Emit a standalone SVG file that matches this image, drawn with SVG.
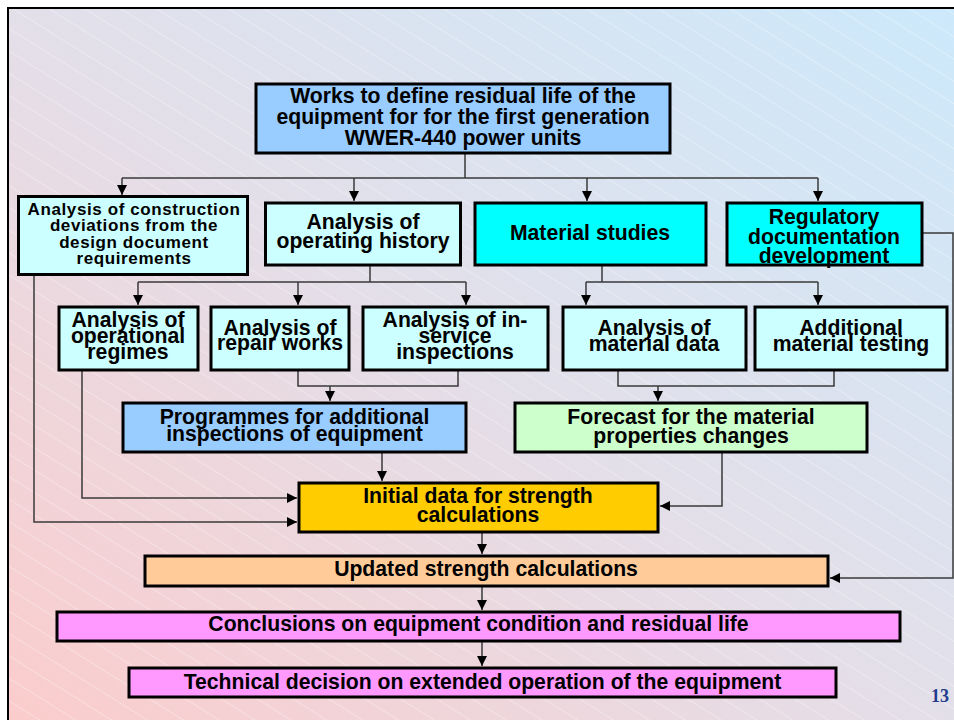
<svg xmlns="http://www.w3.org/2000/svg" width="954" height="720" viewBox="0 0 954 720">
  <defs>
    <linearGradient id="bg" x1="0" y1="1" x2="1" y2="0">
      <stop offset="0" stop-color="#fbcccc"/>
      <stop offset="0.5" stop-color="#e3dfe9"/>
      <stop offset="1" stop-color="#cce9fb"/>
    </linearGradient>
    <pattern id="stripes" patternUnits="userSpaceOnUse" width="19" height="19" patternTransform="rotate(32)">
      <line x1="0" y1="0.5" x2="19" y2="0.5" stroke="#ffffff" stroke-opacity="0.3" stroke-width="1"/>
    </pattern>
    <marker id="arr" markerUnits="userSpaceOnUse" markerWidth="10" markerHeight="10" refX="10" refY="5" orient="auto">
      <path d="M0,0 L10,5 L0,10 z" fill="#000"/>
    </marker>
    <style>
      .box { stroke: #000; stroke-width: 3; }
      .lt { fill: #ccffff; }
      .cy { fill: #00ffff; }
      .bl { fill: #99ccff; }
      .t { font-family: "Liberation Sans", Arial, sans-serif; font-weight: bold; font-size: 21.2px; text-anchor: middle; fill: #000; }
      .ts { font-size: 17px; letter-spacing: 0.6px; }
      .c { fill: none; stroke: #3a3a3a; stroke-width: 1.5; }
      .a { marker-end: url(#arr); }
    </style>
  </defs>

  <!-- slide background -->
  <rect x="0" y="0" width="954" height="720" fill="#ffffff"/>
  <rect x="9" y="9" width="945" height="711" fill="url(#bg)"/>
  <rect x="9" y="9" width="945" height="711" fill="url(#stripes)"/>
  <path d="M8,720 V8 H954" fill="none" stroke="#000" stroke-width="2"/>

  <!-- connectors -->
  <g id="connectors">
    <path class="c" d="M465,154 V178 M122,178 H818"/>
    <path class="c a" d="M122,178 V195"/>
    <path class="c a" d="M354,178 V201"/>
    <path class="c a" d="M587,178 V201"/>
    <path class="c a" d="M818,178 V201"/>

    <path class="c" d="M370,266 V282 M138,282 H466"/>
    <path class="c a" d="M138,282 V305"/>
    <path class="c a" d="M298,282 V305"/>
    <path class="c a" d="M466,282 V305"/>

    <path class="c" d="M602,266 V282 M586,282 H818"/>
    <path class="c a" d="M586,282 V305"/>
    <path class="c a" d="M818,282 V305"/>

    <path class="c" d="M298,371 V386 H458 V371"/>
    <path class="c a" d="M330,386 V401"/>
    <path class="c" d="M618,371 V386 H834 V371"/>
    <path class="c a" d="M658,386 V401"/>

    <path class="c a" d="M382,453 V481"/>
    <path class="c a" d="M82,371 V498 H297"/>
    <path class="c a" d="M34,276 V522 H297"/>
    <path class="c a" d="M722,453 V506 H660"/>

    <path class="c a" d="M482,533 V554"/>
    <path class="c a" d="M922,233 H953 V578 H830"/>
    <path class="c a" d="M482,587 V610"/>
    <path class="c a" d="M482,642 V666"/>
  </g>

  <!-- nodes -->
  <g id="works">
    <rect class="box bl" x="256" y="84" width="414" height="69"/>
    <text class="t" x="463" y="103">Works to define residual life of the</text>
    <text class="t" x="463" y="124">equipment for for the first generation</text>
    <text class="t" x="463" y="145">WWER-440 power units</text>
  </g>

  <g id="construction-deviations">
    <rect class="box lt" x="18.5" y="196.5" width="229" height="78"/>
    <text class="t ts" x="134" y="215">Analysis of construction</text>
    <text class="t ts" x="134" y="231">deviations from the</text>
    <text class="t ts" x="134" y="248">design document</text>
    <text class="t ts" x="134" y="264">requirements</text>
  </g>

  <g id="operating-history">
    <rect class="box lt" x="265.5" y="203" width="195" height="62"/>
    <text class="t" x="363" y="229">Analysis of</text>
    <text class="t" x="363" y="248">operating history</text>
  </g>

  <g id="material-studies">
    <rect class="box cy" x="475" y="203" width="231" height="62"/>
    <text class="t" x="590" y="240">Material studies</text>
  </g>

  <g id="regulatory">
    <rect class="box cy" x="727" y="203" width="195" height="62"/>
    <text class="t" x="824" y="224">Regulatory</text>
    <text class="t" x="824" y="244">documentation</text>
    <text class="t" x="824" y="263">development</text>
  </g>

  <g id="operational-regimes">
    <rect class="box lt" x="59" y="307" width="139" height="63"/>
    <text class="t" x="128" y="327">Analysis of</text>
    <text class="t" x="128" y="343">operational</text>
    <text class="t" x="128" y="359">regimes</text>
  </g>

  <g id="repair-works">
    <rect class="box lt" x="211" y="307" width="138" height="63"/>
    <text class="t" x="280" y="335">Analysis of</text>
    <text class="t" x="280" y="350">repair works</text>
  </g>

  <g id="in-service-inspections">
    <rect class="box lt" x="363" y="307" width="185" height="63"/>
    <text class="t" x="455" y="327">Analysis of in-</text>
    <text class="t" x="455" y="343">service</text>
    <text class="t" x="455" y="359">inspections</text>
  </g>

  <g id="material-data">
    <rect class="box lt" x="563" y="307" width="183" height="63"/>
    <text class="t" x="654" y="335">Analysis of</text>
    <text class="t" x="654" y="351">material data</text>
  </g>

  <g id="material-testing">
    <rect class="box lt" x="755" y="307" width="192" height="63"/>
    <text class="t" x="851" y="335">Additional</text>
    <text class="t" x="851" y="351">material testing</text>
  </g>

  <g id="inspection-programmes">
    <rect class="box bl" x="123" y="403" width="343" height="49"/>
    <text class="t" x="294.5" y="424">Programmes for additional</text>
    <text class="t" x="294.5" y="441">inspections of equipment</text>
  </g>

  <g id="forecast">
    <rect class="box" x="515" y="403" width="352" height="49" fill="#ccffcc"/>
    <text class="t" x="691" y="424">Forecast for the material</text>
    <text class="t" x="691" y="443">properties changes</text>
  </g>

  <g id="initial-data">
    <rect class="box" x="299" y="483" width="359" height="49" fill="#ffcc00"/>
    <text class="t" x="478" y="503">Initial data for strength</text>
    <text class="t" x="478" y="522">calculations</text>
  </g>

  <g id="updated-calculations">
    <rect class="box" x="145" y="556" width="683" height="30" fill="#ffcc99"/>
    <text class="t" x="486" y="576">Updated strength calculations</text>
  </g>

  <g id="conclusions">
    <rect class="box" x="57" y="612" width="843" height="29" fill="#ff99ff"/>
    <text class="t" x="478.5" y="631">Conclusions on equipment condition and residual life</text>
  </g>

  <g id="technical-decision">
    <rect class="box" x="129" y="668" width="707" height="29" fill="#ff99ff"/>
    <text class="t" x="482.5" y="689">Technical decision on extended operation of the equipment</text>
  </g>

  <!-- page number -->
  <text x="940" y="702" font-family="'Liberation Serif', 'Times New Roman', serif" font-weight="bold" font-size="18" fill="#1f3d8c" text-anchor="middle">13</text>
</svg>
